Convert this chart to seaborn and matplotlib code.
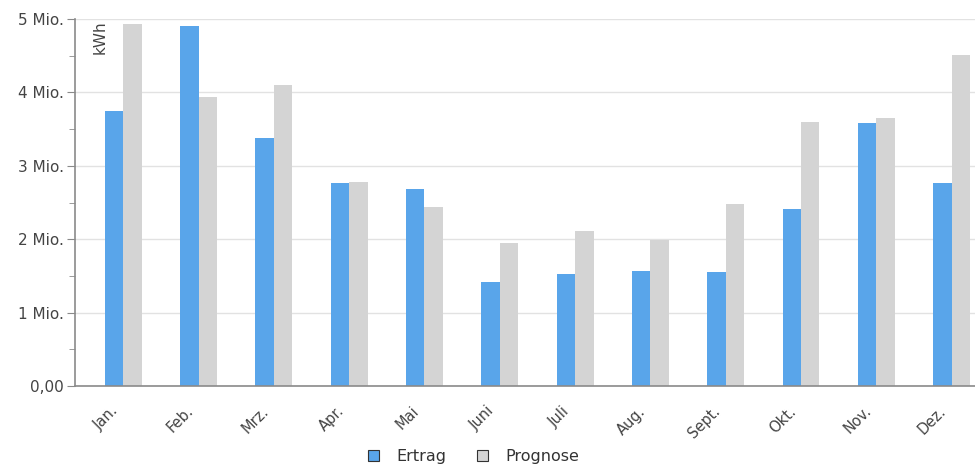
import matplotlib
matplotlib.use('Agg')
import matplotlib.pyplot as plt
import matplotlib.transforms as mtransforms
from matplotlib.patches import Patch
from matplotlib.ticker import FixedLocator, MultipleLocator
import pandas as pd
import seaborn as sns

# Monatswerte in kWh
monate = ['Jan.', 'Feb.', 'Mrz.', 'Apr.', 'Mai', 'Juni', 'Juli', 'Aug.',
          'Sept.', 'Okt.', 'Nov.', 'Dez.']
ertrag = [3.75, 4.90, 3.38, 2.77, 2.68, 1.42, 1.53, 1.57, 1.55, 2.41, 3.58, 2.77]
prognose = [4.93, 3.94, 4.10, 2.78, 2.44, 1.95, 2.11, 1.99, 2.48, 3.60, 3.65, 4.51]
y_ticks = [0, 1, 2, 3, 4, 5]
y_labels = ['0,00', '1 Mio.', '2 Mio.', '3 Mio.', '4 Mio.', '5 Mio.']

farben = {'Ertrag': '#59a5ea', 'Prognose': '#d4d4d4'}

df = pd.DataFrame({
    'monat': monate * 2,
    'wert': [v * 1e6 for v in ertrag + prognose],
    'serie': ['Ertrag'] * 12 + ['Prognose'] * 12,
})

sns.set_style('white')
plt.rcParams['font.family'] = ['DejaVu Sans']

fig = plt.figure(figsize=(9.75, 4.68), dpi=100)
ax = fig.add_axes([75 / 975, 82 / 468, 900 / 975, 367 / 468])

sns.barplot(data=df, x='monat', y='wert', hue='serie', palette=farben,
            width=0.49, gap=0, saturation=1, errorbar=None, ax=ax, legend=False,
            linewidth=0)

ax.set_xlim(-0.64, 11.31)
ax.set_ylim(0, 5e6)
ax.yaxis.set_major_locator(FixedLocator([t * 1e6 for t in y_ticks]))
ax.set_yticklabels(y_labels)
ax.yaxis.set_minor_locator(MultipleLocator(0.5e6))
ax.grid(axis='y', color='#e2e2e2', linewidth=1)
ax.set_axisbelow(True)

for s in ['top', 'right']:
    ax.spines[s].set_visible(False)
for s in ['left', 'bottom']:
    ax.spines[s].set_color('#8a8a8a')
    ax.spines[s].set_linewidth(1.2)

ax.tick_params(axis='y', which='major', left=True, length=6, color='#8a8a8a',
               labelsize=11, labelcolor='#444444', pad=2)
ax.tick_params(axis='y', which='minor', left=True, length=4, color='#8a8a8a')
ax.tick_params(axis='x', bottom=False, labelsize=10.5, labelcolor='#444444', pad=9)

# Monatsbeschriftung schräg, etwas nach links versetzt
shift = mtransforms.ScaledTranslation(-0.13, 0, fig.dpi_scale_trans)
for lbl in ax.get_xticklabels():
    lbl.set_rotation(45)
    lbl.set_ha('right')
    lbl.set_rotation_mode('anchor')
    lbl.set_transform(lbl.get_transform() + shift)

ax.set_xlabel('')
ax.set_ylabel('')
ax.text(0.02, 0.997, 'kWh', transform=ax.transAxes, rotation=90,
        va='top', ha='left', fontsize=11, color='#444444')

handles = [Patch(facecolor=farben[k], edgecolor='#333333', linewidth=0.8, label=k)
           for k in ['Ertrag', 'Prognose']]
fig.legend(handles=handles, loc='lower center', bbox_to_anchor=(0.486, -0.022),
           ncol=2, frameon=False, fontsize=11.5, handlelength=0.7, handleheight=0.7,
           columnspacing=1.9, handletextpad=1.1, labelcolor='#333333')

fig.savefig('out.png', dpi=100)
